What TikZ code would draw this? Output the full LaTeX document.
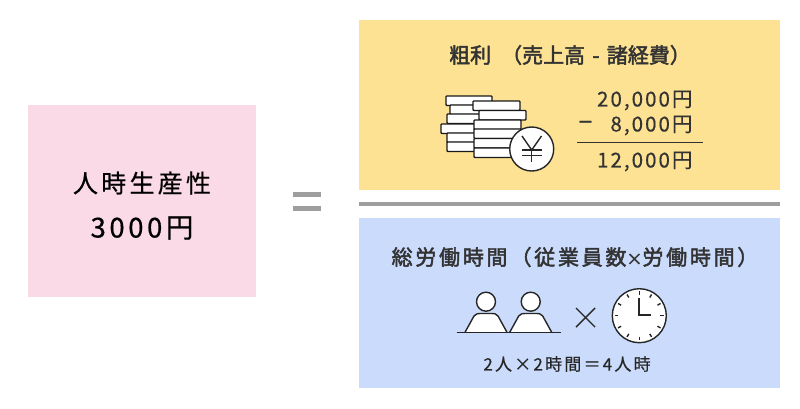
\documentclass[tikz,border=0pt]{standalone}
\usepackage{fontspec}
\usetikzlibrary{calc}
\setmainfont{Noto Sans CJK JP}
\newfontfamily\widefont[LetterSpace=13,FakeBold=0.6]{Noto Sans CJK JP}
\newfontfamily\numfont[LetterSpace=10,FakeBold=0.5]{Noto Sans CJK JP}
\newfontfamily\headfont[FakeBold=2.2]{Noto Sans CJK JP}
\newfontfamily\headwidefont[LetterSpace=13,FakeBold=2.2]{Noto Sans CJK JP}
\definecolor{pinkbox}{HTML}{FADAE6}
\definecolor{yellowbox}{HTML}{FDE293}
\definecolor{bluebox}{HTML}{CADBFC}
\definecolor{barfill}{HTML}{9E9E9E}
\definecolor{ink}{HTML}{333333}
\tikzset{
  panel/.style = {rectangle, inner sep=0, outer sep=0, anchor=north west},
  big/.style   = {text=black, font=\widefont\fontsize{25}{30}\selectfont},
  head/.style  = {text=ink, font=\headfont\fontsize{21}{24}\selectfont},
  headw/.style = {text=ink, font=\headwidefont\fontsize{21}{24}\selectfont},
  num/.style   = {text=ink, font=\numfont\fontsize{20.5}{24}\selectfont, anchor=east},
  note/.style  = {text=black!85, font=\widefont\fontsize{17}{20}\selectfont},
  coin/.style  = {draw=black!90, fill=white, line width=1.3pt, rounded corners=0.8pt},
  icon/.style  = {draw=black!85, line width=1.4pt}
}
\begin{document}
\begin{tikzpicture}[x=1pt,y=-1pt]
  \useasboundingbox (0,0) rectangle (800,408);
  \node[panel, fill=pinkbox, minimum width=228pt, minimum height=192pt] (rate) at (28,105) {};
  \node[panel, fill=yellowbox, minimum width=421pt, minimum height=170pt] (profit) at (359,20) {};
  \node[panel, fill=bluebox, minimum width=421pt, minimum height=170pt] (hours) at (359,218) {};
  \fill[barfill] (359,202) rectangle (780,206);
  \fill[barfill] (293,192) rectangle (321,197);
  \fill[barfill] (293,206) rectangle (321,211);
  \node[big] (ratename) at (142,183) {人時生産性};
  \node[big, font=\widefont\fontsize{27.5}{30}\selectfont] (ratevalue) at (142,228) {3000円};
  \node[head] (profitname) at (570,55) {粗利\hspace{10pt}（売上高\hspace{2.5pt} - \hspace{2.5pt}諸経費）};
  \node[headw] (hoursname) at (575,257) {総労働時間\hspace{3pt}（従業員数{\fontsize{16}{16}\selectfont ×}労働時間）};
  % coins, left stack then right stack
  \foreach \x/\y in {446/96, 450/105, 447/114, 441/124, 447/133, 447/142}
    \draw[coin] (\x,\y) rectangle ++(46,9.4);
  \foreach \x/\y in {473/101, 479/110.5, 474/120, 474/129, 474/138.5, 474/148}
    \draw[coin] (\x,\y) rectangle ++(47,9.4);
  \node[circle, draw=black!85, fill=white, line width=1.4pt, minimum size=44pt, inner sep=0] (yen) at (531.7,149) {};
  \draw[icon] (522,136) -- (531.7,150) -- (541.5,136);
  \draw[icon] (531.7,150) -- (531.7,162);
  \draw[icon] (522,150) -- (541.5,150);
  \draw[icon] (522,155.5) -- (541.5,155.5);
  \node[num] (gross) at (696,100.5) {20,000円};
  \node[num] (cost) at (696,125.5) {8,000円};
  \node[num, font=\numfont\fontsize{26}{24}\selectfont] (minus) at (596,125) {–};
  \node[num] (net) at (696,161.5) {12,000円};
  \draw[ink, line width=1.2pt] (577,142.3) -- (703,142.3);
  % two people at a table
  \foreach \x in {486,530.7} {
    \draw[icon, fill=white] (\x,301.7) circle (9.5);
    \draw[icon, fill=white] (\x-21,332.3) -- (\x-12,316) .. controls (\x-10,313.5) and (\x-8,313.5) .. (\x-6,313.5)
      -- (\x+6,313.5) .. controls (\x+8,313.5) and (\x+10,313.5) .. (\x+12,316) -- (\x+21,332.3);
  }
  \draw[icon] (456.7,332.3) -- (560.7,332.3);
  \draw[icon] (576,308) -- (595,327);
  \draw[icon] (595,308) -- (576,327);
  % clock
  \node[circle, draw=black!85, fill=white, line width=1.4pt, minimum size=54pt, inner sep=0] (clock) at (639.3,315.7) {};
  \foreach \a in {0,30,...,330}
    \draw[icon] ($(clock.center)+(\a:21)$) -- ($(clock.center)+(\a:24.5)$);
  \draw[icon, line width=1.7pt] (638.7,298) -- (638.7,314.7) -- (651,314.7);
  \node[note] (formula) at (567,364) {2人×2時間＝4人時};
\end{tikzpicture}
\end{document}
